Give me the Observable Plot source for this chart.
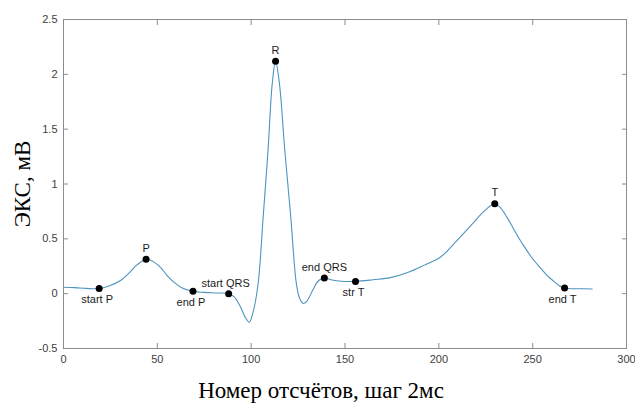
<!DOCTYPE html>
<html>
<head>
<meta charset="utf-8">
<script src="https://cdn.jsdelivr.net/npm/d3@7"></script>
<script src="https://cdn.jsdelivr.net/npm/@observablehq/plot@0.6"></script>
<style>
  html, body { margin: 0; padding: 0; background: #fff; }
  #chart svg { display: block; }
</style>
</head>
<body>
<div id="chart"></div>
<script>
// ECG trace: sample number and amplitude (mV)
const samples = [0, 6, 12, 19, 25, 30.4, 35, 39, 44, 48, 51.7, 55, 58.8, 63, 69, 75, 82, 88,
  91, 94, 97, 99, 101, 103.7, 106.4, 109, 111.2, 113, 115.1, 117.9, 121.1, 124.1, 126, 128, 130,
  133, 136, 139, 143, 148, 155.6, 165, 174.2, 183, 192, 200.9, 209.7, 218.6, 224, 229.8, 233,
  236.2, 240.5, 245.1, 249.5, 254, 258, 261.1, 264, 267, 272, 277, 281.7];
const values = [0.058, 0.055, 0.048, 0.046, 0.075, 0.12, 0.19, 0.26, 0.313, 0.29, 0.24, 0.17, 0.105, 0.055, 0.021, 0.012, 0.006, 0,
  -0.03, -0.11, -0.22, -0.26, -0.17, 0.09, 0.7, 1.31, 1.91, 2.12, 1.91, 1.31, 0.70, 0.09, -0.05, -0.09, -0.06,
  0.04, 0.12, 0.142, 0.125, 0.113, 0.112, 0.127, 0.146, 0.19, 0.258, 0.334, 0.486, 0.65, 0.75, 0.82, 0.78,
  0.70, 0.57, 0.44, 0.33, 0.237, 0.16, 0.115, 0.075, 0.051, 0.045, 0.045, 0.042];

// Key points
const keyNames = ["start P", "P", "end P", "start QRS", "R", "end QRS", "str T", "T", "end T"];
const keyX = [19, 44, 69, 88, 113, 139, 155.6, 229.8, 267];
const keyY = [0.046, 0.313, 0.021, 0, 2.12, 0.142, 0.112, 0.82, 0.051];

// Axis ticks
const xTicks = [0, 50, 100, 150, 200, 250, 300];
const yTicks = [-0.5, 0, 0.5, 1, 1.5, 2, 2.5];
const yTickLabels = ["-0.5", "0", "0.5", "1", "1.5", "2", "2.5"];

const xLabel = "Номер отсчётов, шаг 2мс";
const yLabel = "ЭКС, мВ";

const trace = samples.map((s, i) => ({x: s, y: values[i]}));
const keys = keyNames.map((n, i) => ({name: n, x: keyX[i], y: keyY[i]}));

const above = new Set(["P", "R", "end QRS", "T"]);
const below = new Set(["start P", "end P", "str T", "end T"]);

const axisColor = "#8c8c8c";
const textColor = "#404040";
const sans = "'Liberation Sans', Arial, Helvetica, sans-serif";
const serif = "'Liberation Serif', 'Times New Roman', serif";

const plot = Plot.plot({
  width: 635,
  height: 405,
  marginLeft: 63,
  marginRight: 9,
  marginTop: 19,
  marginBottom: 57,
  style: {fontFamily: sans, fontSize: "11px", color: textColor, background: "#fff"},
  x: {domain: [0, 300], label: null},
  y: {domain: [-0.5, 2.5], label: null},
  marks: [
    Plot.frame({stroke: axisColor, strokeWidth: 1}),
    Plot.axisX(xTicks, {anchor: "bottom", tickSize: -5, tickPadding: 12, stroke: axisColor, fill: textColor, label: null, tickFormat: d => String(d)}),
    Plot.axisX(xTicks, {anchor: "top", tickSize: -5, stroke: axisColor, label: null, tickFormat: () => ""}),
    Plot.axisY(yTicks, {anchor: "left", tickSize: -5, tickPadding: 11, stroke: axisColor, fill: textColor, label: null, tickFormat: d => yTickLabels[yTicks.indexOf(d)]}),
    Plot.axisY(yTicks, {anchor: "right", tickSize: -5, stroke: axisColor, label: null, tickFormat: () => ""}),
    Plot.line(trace, {x: "x", y: "y", curve: "catmull-rom", stroke: "#4d94bf", strokeWidth: 1.1}),
    Plot.dot(keys, {x: "x", y: "y", r: 3.5, fill: "#000", stroke: "none"}),
    Plot.text(keys.filter(d => above.has(d.name)), {x: "x", y: "y", text: "name", dy: -11, fill: "#1a1a1a", fontSize: 11}),
    Plot.text(keys.filter(d => below.has(d.name)), {x: "x", y: "y", text: "name", dy: 11, dx: -2, fill: "#1a1a1a", fontSize: 11}),
    Plot.text(keys.filter(d => d.name === "start QRS"), {x: "x", y: "y", text: "name", dy: -10, dx: -3, fill: "#1a1a1a", fontSize: 11}),
    Plot.text([xLabel], {frameAnchor: "bottom", textAnchor: "middle", lineAnchor: "middle", dx: -24, dy: 42, text: d => d, fontFamily: serif, fontSize: 23, fill: "#000"}),
    Plot.text([yLabel], {frameAnchor: "left", textAnchor: "middle", lineAnchor: "middle", dx: -41, rotate: -90, text: d => d, fontFamily: serif, fontSize: 23, fill: "#000"})
  ]
});
document.getElementById("chart").appendChild(plot);
</script>
</body>
</html>
